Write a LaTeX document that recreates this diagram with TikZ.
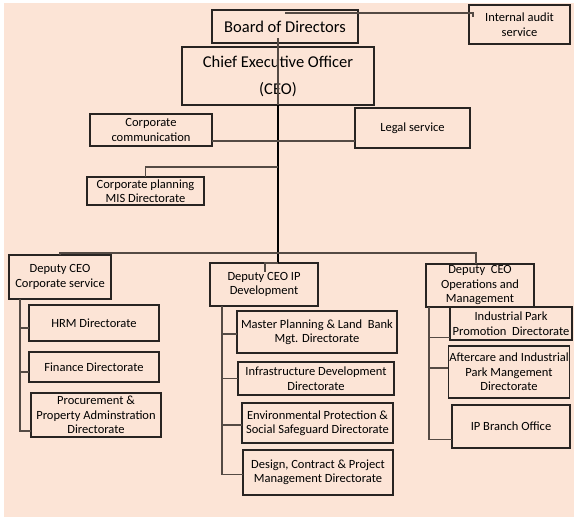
\documentclass[tikz,border=0pt]{standalone}
\usepackage{fontspec}
\setmainfont{Carlito}
\definecolor{Peach}{RGB}{252, 228, 214}
\definecolor{Ink}{RGB}{40, 36, 34}
\definecolor{Wire}{RGB}{84, 74, 68}
\usetikzlibrary{calc}

\begin{document}
\begin{tikzpicture}[x=1pt, y=-1pt,
        unit/.style={rectangle, draw=Ink, line width=1.1pt, inner sep=1pt, outer sep=0pt, align=center, font=\fontsize{12.5}{14.5}\selectfont},
        head/.style={unit, font=\fontsize{16.5}{20}\selectfont},
        link/.style={draw=Wire, line width=1.1pt},
        trunk/.style={draw=black, line width=2.3pt}
    ]
        \fill[white] (0,0) rectangle (574,517);
        \fill[Peach] (4,3) rectangle (574,517);
        \useasboundingbox (0,0) rectangle (574,517);

        \node[head, minimum width=146, minimum height=33] (bod) at (285,26.5) {Board of Directors};
        \node[unit, minimum width=101, minimum height=39] (audit) at (519.5,24.5) {Internal audit\\service};
        \node[head, minimum width=192, minimum height=58] (ceo) at (278,76) {Chief Executive Officer\\[7pt](CEO)};
        \node[unit, minimum width=122, minimum height=32] (comm) at (151,130) {Corporate\\communication};
        \node[unit, minimum width=115, minimum height=40] (legal) at (412.5,128) {Legal service};
        \node[unit, minimum width=117, minimum height=28] (plan) at (145.5,191) {Corporate planning\\MIS Directorate};

        \node[unit, minimum width=102, minimum height=44] (dcs) at (60,277) {Deputy CEO\\Corporate service};
        \node[unit, minimum width=108, minimum height=43] (dip) at (264,284.5) {Deputy CEO IP\\Development};
        \node[unit, minimum width=108, minimum height=43] (dops) at (480,285.5) {Deputy\ \ CEO\\Operations and\\Management};

        \node[unit, minimum width=130, minimum height=36] (hrm) at (94,323) {HRM Directorate};
        \node[unit, minimum width=130, minimum height=30] (fin) at (94,367) {Finance Directorate};
        \node[unit, minimum width=130, minimum height=44] (proc) at (96,415) {Procurement \&\\Property Adminstration\\Directorate};

        \node[unit, minimum width=160, minimum height=42] (mpl) at (317,332) {Master Planning \& Land\ \ Bank\\Mgt. Directorate};
        \node[unit, minimum width=156, minimum height=33] (infra) at (316,378.5) {Infrastructure Development\\Directorate};
        \node[unit, minimum width=151, minimum height=40] (env) at (317.5,423) {Environmental Protection \&\\Social Safeguard Directorate};
        \node[unit, minimum width=150, minimum height=45] (dcp) at (318,472.5) {Design, Contract \& Project\\Management Directorate};

        \node[unit, minimum width=122, minimum height=33] (ipp) at (511,323.5) {Industrial Park\\Promotion\ \ Directorate};
        \node[unit, minimum width=118, minimum height=52] (aft) at (509,372) {Aftercare and Industrial\\Park Mangement\\Directorate};
        \node[unit, minimum width=118, minimum height=43] (ipb) at (511,426.5) {IP Branch Office};

        \draw[link] ($(bod.north)+(0,3)$) -| ($(audit.north west)+(4,12)$);
        \draw[link] ($(bod.south)+(-7,-5)$) -- (ceo.south);
        \draw[trunk] (ceo.south) -- (ceo.south |- dip.north);
        \draw[link] (ceo.south |- dip.north) -| ($(dip.north)+(1,9)$);
        \draw[link] ($(comm.east)+(0,11)$) -- ($(legal.west)+(0,13)$);
        \draw[link] (plan.north) |- ($(ceo.south)+(0,62)$);
        \draw[link] (dcs.north) |- ($(ceo.south)+(0,148)$) -| ($(dops.north)+(-4,0)$);

        \coordinate (csbus) at ($(dcs.south west)+(11,0)$);
        \coordinate (ipbus) at ($(dip.south west)+(12,0)$);
        \coordinate (opbus) at ($(dops.south west)+(3,0)$);
        \foreach \n/\d in {hrm/5, fin/5, proc/16}
            \draw[link] (\n.west) ++(0,\d) -| (csbus);
        \foreach \n/\d in {mpl/2, infra/0, env/2, dcp/2}
            \draw[link] (\n.west) ++(0,\d) -| (ipbus);
        \foreach \n/\d in {ipp/14, aft/-4, ipb/13}
            \draw[link] (\n.west) ++(0,\d) -| (opbus);
    \end{tikzpicture}
\end{document}
